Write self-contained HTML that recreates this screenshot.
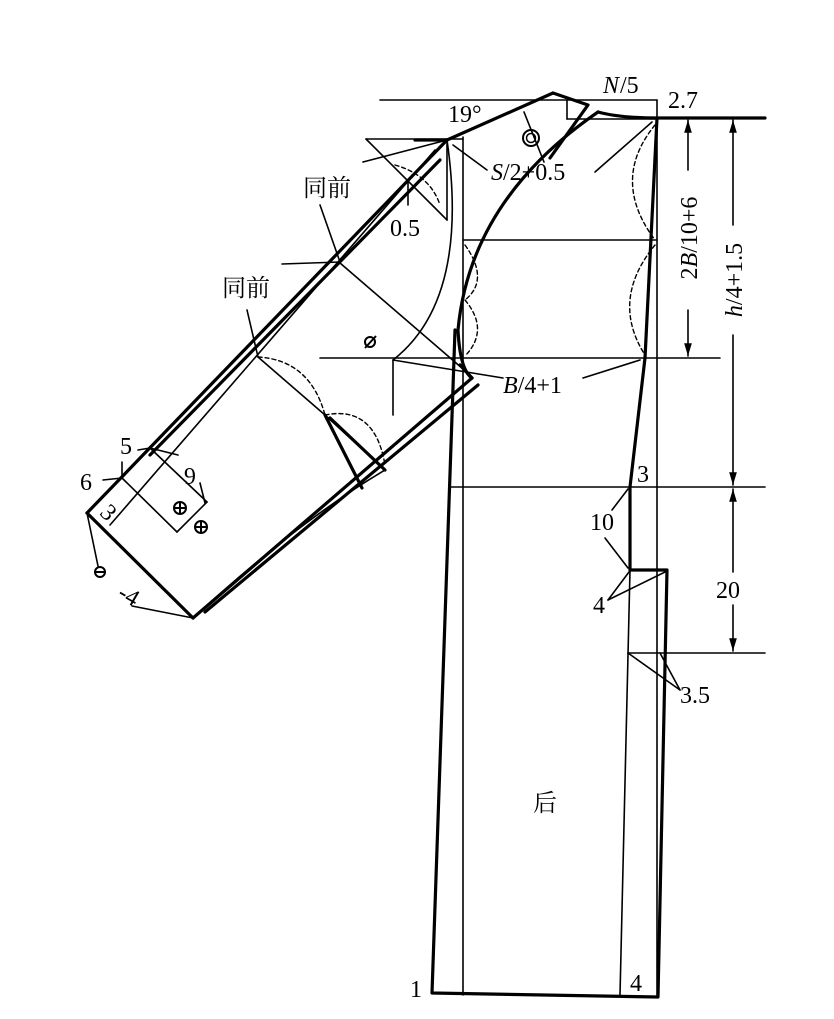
<!DOCTYPE html>
<html><head><meta charset="utf-8"><style>
html,body{margin:0;padding:0;background:#fff}
svg{display:block}
text{font-family:"Liberation Serif","Noto Serif CJK SC",serif;font-size:24px;fill:#000}
</style></head><body>
<svg width="834" height="1019" viewBox="0 0 834 1019" xmlns="http://www.w3.org/2000/svg">
<defs>
<marker id="ar" viewBox="0 0 10 10" refX="10" refY="5" markerWidth="8" markerHeight="10" orient="auto-start-reverse"><path d="M0,2 L10,5 L0,8 z" fill="#000"/></marker>
</defs>
<g stroke="#000" fill="none" stroke-linecap="round" stroke-linejoin="round">
<g stroke-width="1.6">
<line x1="380" y1="100" x2="657" y2="100"/>
<line x1="657" y1="100" x2="657" y2="995"/>
<line x1="463" y1="137" x2="463" y2="995"/>
<line x1="463" y1="240" x2="657" y2="240"/>
<line x1="320" y1="358" x2="720" y2="358"/>
<line x1="450" y1="487" x2="765" y2="487"/>
<line x1="628" y1="653" x2="765" y2="653"/>
<line x1="630" y1="570" x2="620" y2="995"/>
<line x1="567" y1="100" x2="567" y2="119"/>
<line x1="567" y1="119" x2="657" y2="119"/>
<line x1="366" y1="139" x2="447" y2="139"/>
<line x1="366" y1="139" x2="447" y2="220"/>
<line x1="447" y1="139" x2="447" y2="220"/>
<line x1="447" y1="139" x2="463" y2="139"/>
<line x1="408" y1="180" x2="408" y2="205"/>
<line x1="363" y1="162" x2="447" y2="140"/>
<line x1="453" y1="145" x2="487" y2="170"/>
<line x1="595" y1="172" x2="652" y2="122"/>
<line x1="524" y1="112" x2="544" y2="162"/>
<line x1="393" y1="360" x2="503" y2="378"/>
<line x1="583" y1="378" x2="640" y2="360"/>
<line x1="393" y1="360" x2="393" y2="415"/>
<path d="M447,140 Q470,300 393,360"/>
<line x1="340" y1="263" x2="470" y2="375"/>
<line x1="282" y1="264" x2="340" y2="262"/>
<line x1="320" y1="205" x2="340" y2="262"/>
<line x1="247" y1="310" x2="258" y2="357"/>
<line x1="258" y1="357" x2="325" y2="415"/>
<line x1="325" y1="415" x2="385" y2="470"/>
<line x1="110" y1="525" x2="435" y2="150"/>
<line x1="122" y1="478" x2="177" y2="532"/>
<line x1="177" y1="532" x2="207" y2="502"/>
<line x1="207" y1="502" x2="150" y2="448"/>
<line x1="150" y1="448" x2="122" y2="478"/>
<line x1="122" y1="462" x2="122" y2="478"/>
<line x1="103" y1="480" x2="122" y2="478"/>
<line x1="138" y1="450" x2="150" y2="448"/>
<line x1="150" y1="448" x2="178" y2="455"/>
<line x1="200" y1="483" x2="205" y2="503"/>
<line x1="87" y1="513" x2="98" y2="566"/>
<line x1="132" y1="606" x2="193" y2="618"/>
<path d="M193,618 Q300,520 385,470"/>
<line x1="612" y1="510" x2="628" y2="489"/>
<line x1="605" y1="538" x2="628" y2="568"/>
<line x1="608" y1="600" x2="629" y2="572"/>
<line x1="608" y1="600" x2="665" y2="572"/>
<line x1="628" y1="653" x2="680" y2="690"/>
<line x1="660" y1="653" x2="680" y2="690"/>
<line x1="688" y1="120" x2="688" y2="170" marker-start="url(#ar)"/>
<line x1="688" y1="310" x2="688" y2="356" marker-end="url(#ar)"/>
<line x1="733" y1="120" x2="733" y2="225" marker-start="url(#ar)"/>
<line x1="733" y1="335" x2="733" y2="485" marker-end="url(#ar)"/>
<line x1="733" y1="489" x2="733" y2="572" marker-start="url(#ar)"/>
<line x1="733" y1="605" x2="733" y2="651" marker-end="url(#ar)"/>
</g>
<g stroke-width="1.4" stroke-dasharray="4,3">
<path d="M655,125 Q610,180 655,240"/>
<path d="M655,245 Q610,300 645,355"/>
<path d="M465,245 Q490,280 465,300"/>
<path d="M465,300 Q490,330 465,356"/>
<path d="M258,357 Q310,360 325,415"/>
<path d="M325,415 Q375,405 385,465"/>
<path d="M395,165 Q430,175 440,205"/>
</g>
<g stroke-width="3.2">
<line x1="447" y1="140" x2="553" y2="93"/>
<polyline points="553,93 588,105 550,158"/>
<path d="M598,112 Q620,118 657,118"/>
<path d="M598,112 Q470,200 458,330 Q460,370 472,378"/>
<polyline points="657,118 645,358 630,487 630,570 667,570 658,997 432,993 455,330"/>
<line x1="657" y1="118" x2="765" y2="118"/>
<line x1="447" y1="140" x2="87" y2="513"/>
<line x1="440" y1="160" x2="150" y2="455"/>
<line x1="87" y1="513" x2="193" y2="618"/>
<line x1="193" y1="618" x2="472" y2="378"/>
<line x1="205" y1="612" x2="478" y2="385"/>
<line x1="472" y1="378" x2="460" y2="365"/>
<line x1="325" y1="415" x2="362" y2="488"/>
<line x1="330" y1="418" x2="385" y2="470"/>
<line x1="415" y1="140" x2="447" y2="140"/>
</g>
<circle cx="531" cy="138" r="8" stroke-width="2"/>
<circle cx="531" cy="138" r="4.5" stroke-width="1.5"/>
</g>
<g fill="none" stroke="#000" stroke-width="2">
<circle cx="180" cy="508" r="6"/><line x1="174" y1="508" x2="186" y2="508"/><line x1="180" y1="502" x2="180" y2="514"/>
<circle cx="201" cy="527" r="6"/><line x1="195" y1="527" x2="207" y2="527"/><line x1="201" y1="521" x2="201" y2="533"/>
<circle cx="100" cy="572" r="5"/><line x1="95" y1="572" x2="105" y2="572"/>
<circle cx="370" cy="342" r="5"/><line x1="365" y1="348" x2="376" y2="336"/>
</g>
<text x="603" y="93" font-style="italic">N</text><text x="620" y="93">/5</text>
<text x="668" y="108">2.7</text>
<text x="448" y="122">19°</text>
<text x="491" y="180"><tspan font-style="italic">S</tspan>/2+0.5</text>
<text x="390" y="236">0.5</text>
<text x="303" y="196">同前</text>
<text x="222" y="296">同前</text>
<text x="503" y="393"><tspan font-style="italic">B</tspan>/4+1</text>
<text transform="translate(697,238) rotate(-90)" text-anchor="middle">2<tspan font-style="italic">B</tspan>/10+6</text>
<text transform="translate(742,280) rotate(-90)" text-anchor="middle"><tspan font-style="italic">h</tspan>/4+1.5</text>
<text x="716" y="598">20</text>
<text x="637" y="482">3</text>
<text x="590" y="530">10</text>
<text x="593" y="613">4</text>
<text x="680" y="703">3.5</text>
<text x="533" y="811">后</text>
<text x="410" y="997">1</text>
<text x="630" y="991">4</text>
<text x="120" y="454">5</text>
<text transform="translate(190,468) rotate(180)" text-anchor="middle">6</text>
<text x="80" y="490">6</text>
<text transform="translate(103,518) rotate(45)" text-anchor="middle">3</text>
<text transform="translate(125,602) rotate(30)" text-anchor="middle">-4</text>
</svg>
</body></html>
